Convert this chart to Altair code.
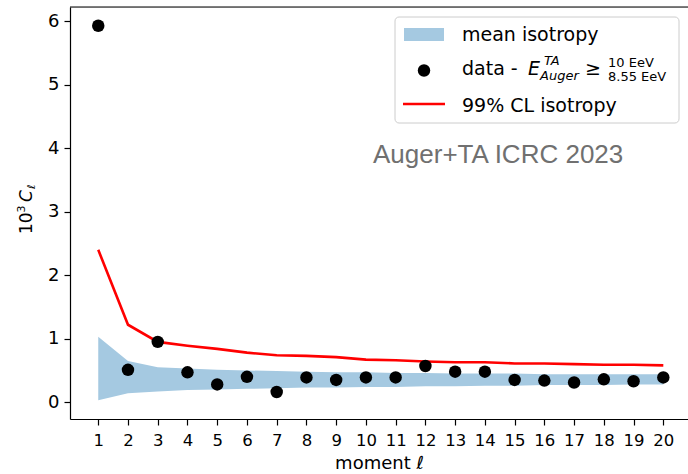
import altair as alt
import pandas as pd

# ---------------- data ----------------
ell = list(range(1, 21))
cl_data = [5.93, 0.51, 0.95, 0.47, 0.28, 0.40, 0.16, 0.39, 0.35, 0.39,
           0.39, 0.57, 0.48, 0.48, 0.35, 0.34, 0.31, 0.36, 0.33, 0.39]
cl_99 = [2.40, 1.22, 0.95, 0.89, 0.84, 0.78, 0.74, 0.73, 0.71, 0.67,
         0.66, 0.64, 0.63, 0.63, 0.61, 0.61, 0.60, 0.59, 0.59, 0.58]
iso_low = [0.03, 0.14, 0.17, 0.19, 0.20, 0.21, 0.22, 0.23, 0.23, 0.24,
           0.24, 0.25, 0.25, 0.26, 0.26, 0.27, 0.27, 0.27, 0.28, 0.28]
iso_high = [1.03, 0.65, 0.55, 0.53, 0.51, 0.50, 0.49, 0.48, 0.47, 0.47,
            0.46, 0.46, 0.45, 0.45, 0.45, 0.44, 0.44, 0.44, 0.44, 0.44]
x_ticks = list(range(1, 21))
y_ticks = [0, 1, 2, 3, 4, 5, 6]

df = pd.DataFrame({"ell": ell, "cl": cl_data, "cl99": cl_99,
                   "lo": iso_low, "hi": iso_high})
one = pd.DataFrame({"k": [0]})

FONT = "DejaVu Sans"
W, H = 618, 412

xs = alt.Scale(domain=[0.05, 20.83], nice=False, zero=False)
ys = alt.Scale(domain=[-0.265, 6.225], nice=False, zero=False)

xaxis = alt.Axis(values=x_ticks, title="moment ℓ", grid=False,
                 labelFont=FONT, labelFontSize=16.5, labelColor="black",
                 titleFont=FONT, titleFontSize=18, titleFontWeight="normal",
                 titleColor="black", titlePadding=6,
                 tickSize=6, tickColor="black", tickWidth=1.2,
                 domainColor="black", domainWidth=1.2, labelPadding=7,
                 labelAngle=0)
yaxis = alt.Axis(values=y_ticks, title=None, grid=False,
                 labelFont=FONT, labelFontSize=18, labelColor="black",
                 tickSize=6, tickColor="black", tickWidth=1.2,
                 domainColor="black", domainWidth=1.2, labelPadding=5)

base = alt.Chart(df)
X = alt.X("ell:Q", scale=xs, axis=xaxis)

band = base.mark_area(color="#a5c9e1", opacity=1).encode(
    x=X, y=alt.Y("lo:Q", scale=ys, axis=yaxis), y2="hi:Q")
line = base.mark_line(color="#ff0000", strokeWidth=2.6).encode(
    x=X, y=alt.Y("cl99:Q", scale=ys, axis=yaxis))
pts = base.mark_circle(color="black", size=155, opacity=1).encode(
    x=X, y=alt.Y("cl:Q", scale=ys, axis=yaxis))

# top frame line
top = alt.Chart(one).mark_rule(color="black", strokeWidth=1.2).encode(
    x=alt.value(0), x2=alt.value(W), y=alt.value(0))


def txt(s, x, y, size, style="normal", font=FONT, color="black",
        angle=0, align="left"):
    return alt.Chart(one).mark_text(
        text=s, font=font, fontSize=size, fontStyle=style, color=color,
        align=align, baseline="alphabetic", angle=angle
    ).encode(x=alt.value(x), y=alt.value(y))


# y-axis title: 10^3 C_ell
ytitle = [
    txt("10", 32 - 70, 234 - 7, 17, angle=270),
    txt("3", 25 - 70, 212.5 - 7, 11, angle=270),
    txt("C", 32 - 70, 202 - 7, 17, style="italic", angle=270),
    txt("ℓ", 35 - 70, 189 - 7, 11, style="italic", angle=270),
]

# annotation
annot = txt("Auger+TA ICRC 2023", 303, 156, 26, font="Liberation Sans",
            color="#707070")

# legend
box = alt.Chart(one).mark_rect(fill="white", fillOpacity=0.8,
                               stroke="#cccccc", strokeWidth=1,
                               cornerRadius=4).encode(
    x=alt.value(325), x2=alt.value(609), y=alt.value(10), y2=alt.value(116))
swatch = alt.Chart(one).mark_rect(fill="#a5c9e1").encode(
    x=alt.value(334), x2=alt.value(374), y=alt.value(21), y2=alt.value(34))
ldot = alt.Chart(one).mark_circle(color="black", size=155, opacity=1).encode(
    x=alt.value(354), y=alt.value(63.5))
lline = alt.Chart(one).mark_rule(color="#ff0000", strokeWidth=2.6).encode(
    x=alt.value(333), x2=alt.value(375), y=alt.value(97))

legend_txt = [
    txt("mean isotropy", 392, 33.7, 19),
    txt("data - ", 392, 68, 19),
    txt("E", 458, 68, 19, style="italic"),
    txt("TA", 474, 58, 13, style="italic"),
    txt("Auger", 470, 73, 13, style="italic"),
    txt("≥", 515, 68, 19),
    txt("10 EeV", 538, 59.5, 13),
    txt("8.55 EeV", 538, 74, 13),
    txt("99% CL isotropy", 392, 104.7, 19),
]

chart = alt.layer(band, line, pts, top, *ytitle, annot, box, swatch, ldot,
                  lline, *legend_txt).properties(
    width=W, height=H,
    autosize=alt.AutoSizeParams(type="none"),
    padding={"left": 70, "top": 7, "right": 0, "bottom": 55},
).configure_view(stroke=None).configure(background="white")

chart.save("out.html", embed_options={"renderer": "svg", "actions": False})
